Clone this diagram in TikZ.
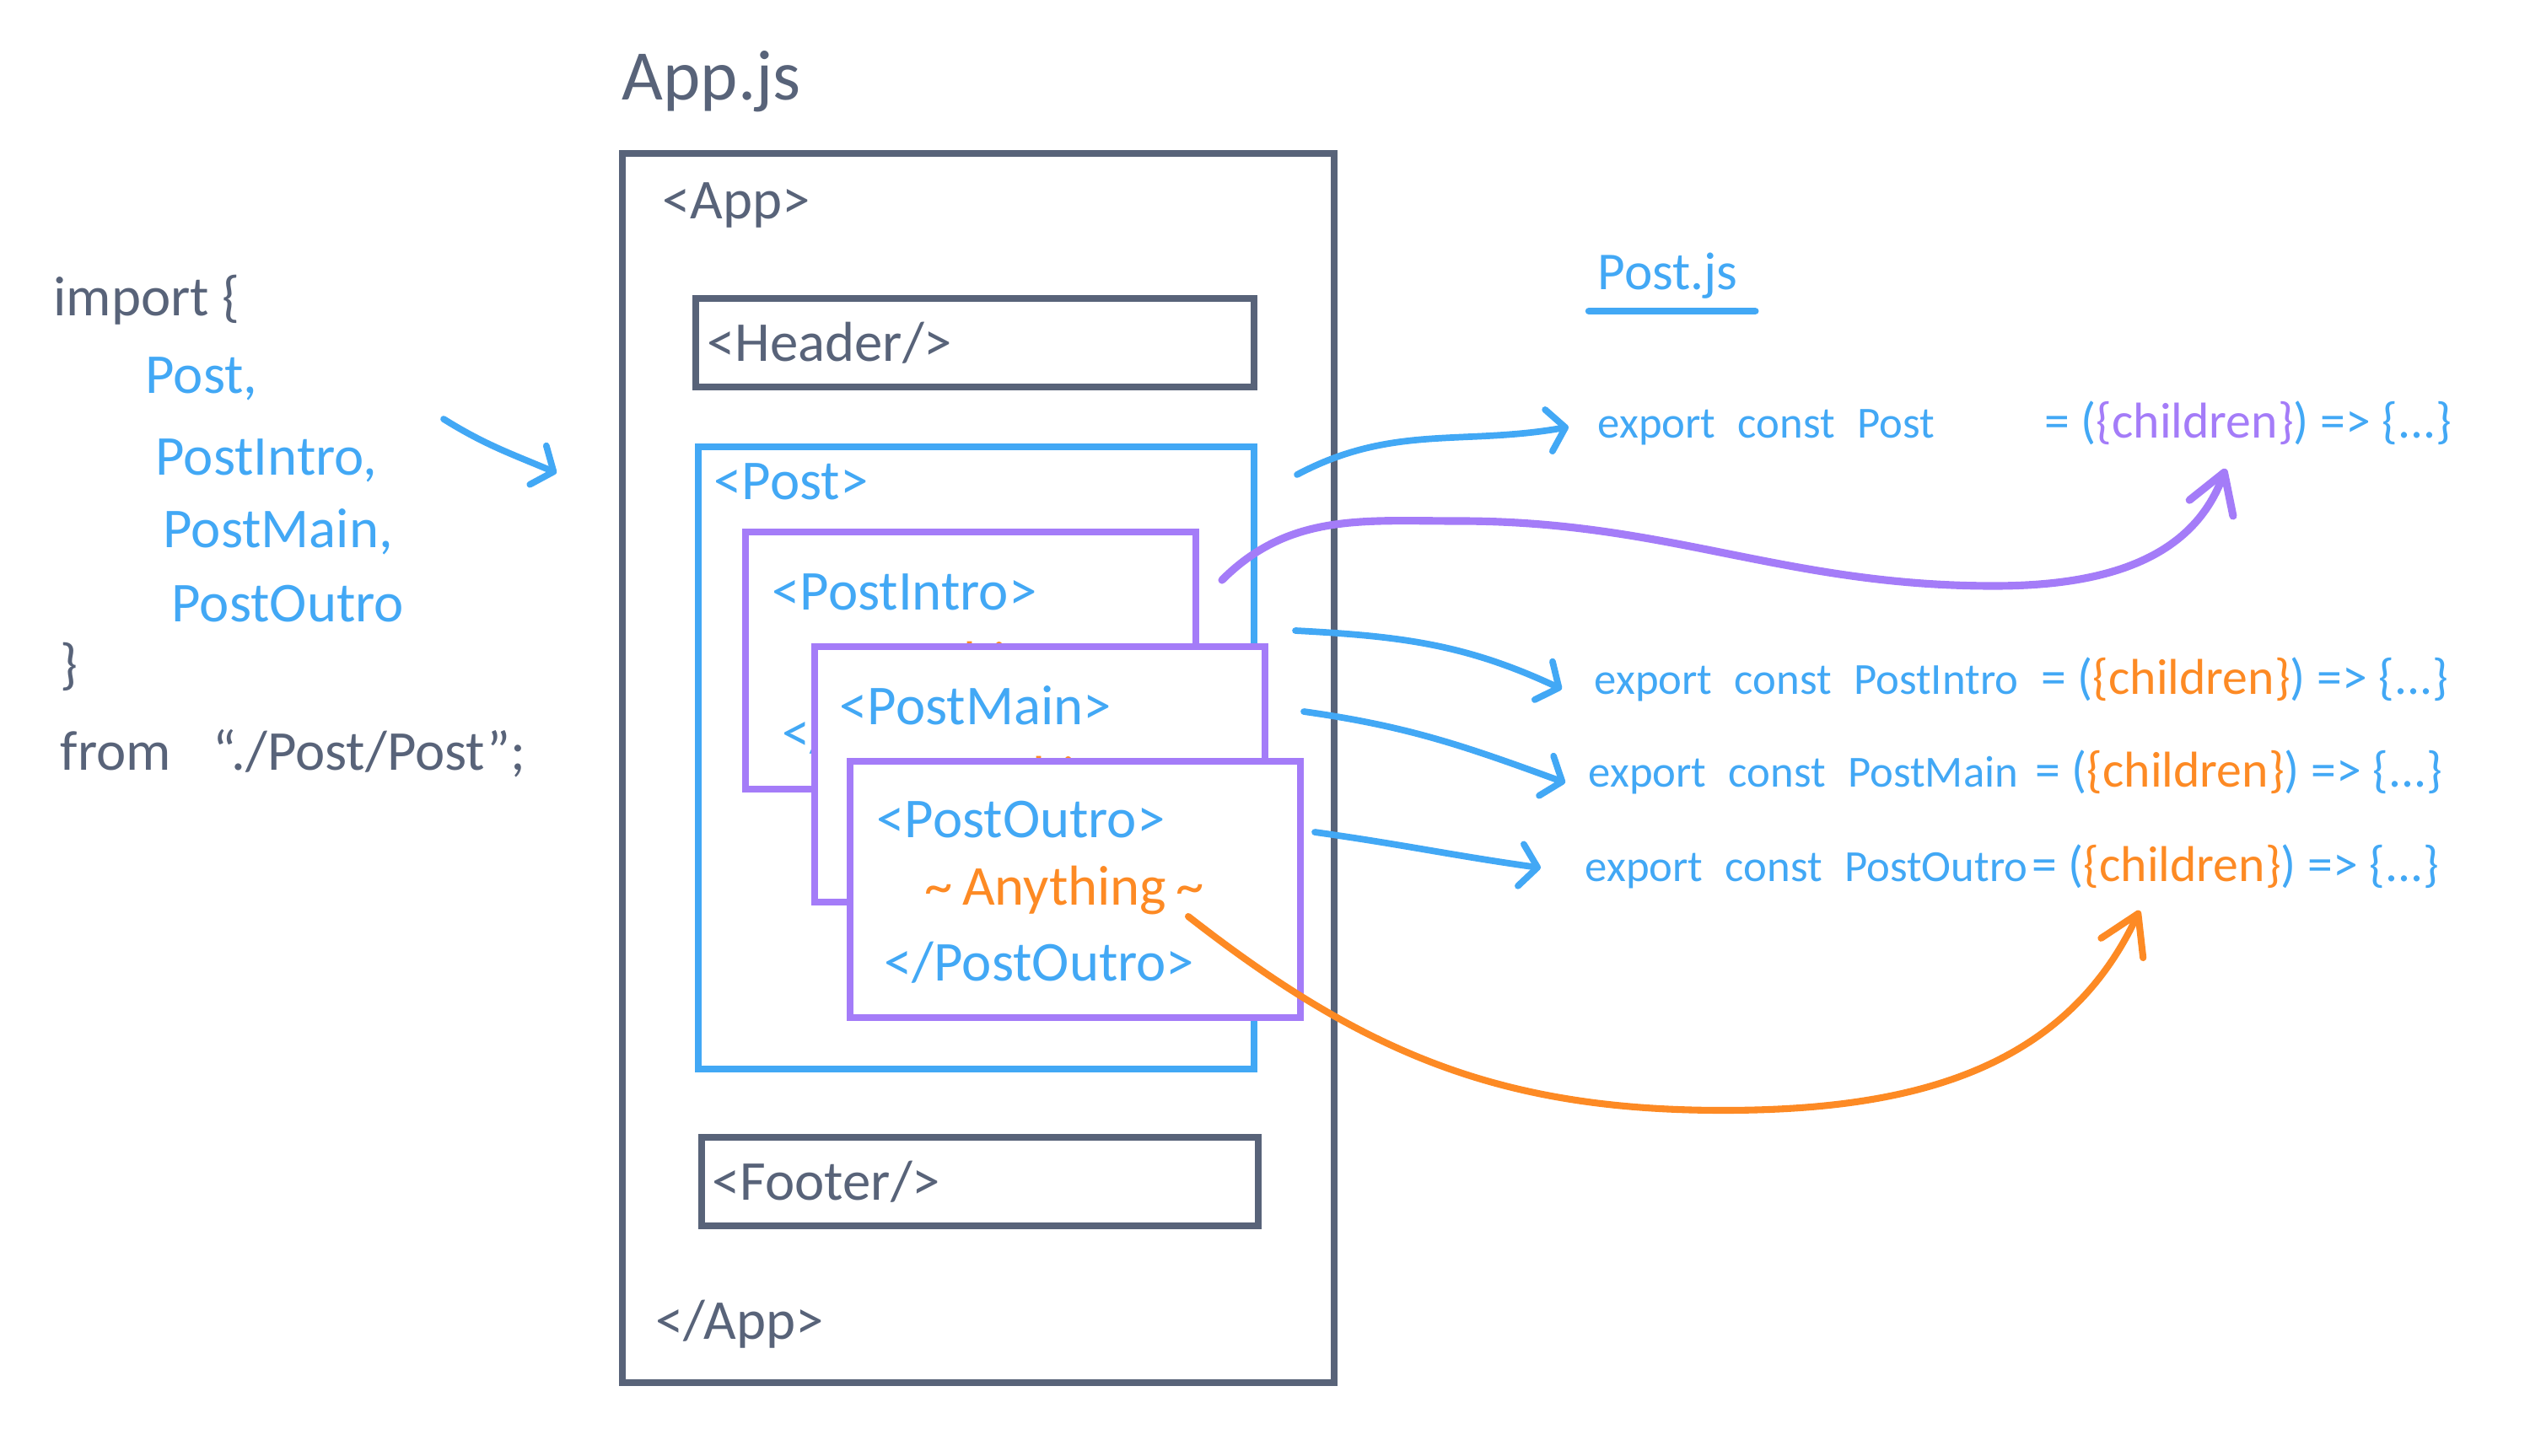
\documentclass[tikz,border=0pt]{standalone}
\usepackage{fontspec}
\setmainfont{Carlito}
\usepackage{tikz}
\usetikzlibrary{positioning, arrows.meta, calc}
\definecolor{SkGray}{RGB}{88,99,121}
\definecolor{SkBlue}{RGB}{66,168,245}
\definecolor{SkPurple}{RGB}{164,124,248}
\definecolor{SkOrange}{RGB}{253,138,36}
\newcommand{\wgap}{\hspace{0.5em}}
\newcommand{\kids}[1]{\textcolor{#1}{\{children\}}}
\newcommand{\expline}[2]{export\wgap const\wgap \makebox[2.22cm][l]{#1}%
  {\fontsize{17}{20}\selectfont= (\kids{#2}) => \{...\}}}

\begin{document}
\begin{tikzpicture}[
    box/.style={rectangle, draw=#1, line width=2.4pt, fill=white, inner sep=0pt},
    box/.default=SkGray,
    tag/.style={font=\fontsize{19}{22}\selectfont, inner sep=0pt, anchor=base west, text=#1},
    tag/.default=SkGray,
    code/.style={font=\fontsize{15}{18}\selectfont, inner sep=0pt, anchor=base west, text=SkBlue},
    link/.style={line width=2.2pt, line cap=round, draw=#1,
                 -{Straight Barb[length=2mm, width=5mm, round]}}
  ]
    \useasboundingbox (0,0) rectangle (30,-17.27);

    % App.js -- outer box
    \node[tag, font=\fontsize{24}{29}\selectfont] (appjs) at (7.37,-1.19) {App.js};
    \node[box, fill=none, minimum width=8.44cm, minimum height=14.58cm]
          (app) at (11.60,-9.11) {};
    \node[tag] (appo) at (7.85,-2.60) {<App>};

    % Header
    \node[box, minimum width=6.62cm, minimum height=1.05cm] (hdr) at (11.56,-4.065) {};
    \node[tag, right=0.17cm of hdr.west] {<Header/>};

    % Post with its three parts
    \node[box=SkBlue, minimum width=6.59cm, minimum height=7.38cm] (post) at (11.575,-8.99) {};
    \node[tag=SkBlue] (posto) at (8.46,-5.93) {<Post>};

    \node[box=SkPurple, minimum width=5.34cm, minimum height=3.05cm] (intro) at (11.51,-7.835) {};
    \node[tag=SkBlue] at (9.15,-7.23) {<PostIntro>};
    \node[tag=SkOrange] at (9.72,-8.07) {\textasciitilde\,Anything\,\textasciitilde};
    \node[tag=SkBlue] at (9.27,-8.91) {</PostIntro>};

    \node[box=SkPurple, minimum width=5.34cm, minimum height=3.03cm] (main) at (12.33,-9.185) {};
    \node[tag=SkBlue] at (9.95,-8.59) {<PostMain>};
    \node[tag=SkOrange] at (10.54,-9.43) {\textasciitilde\,Anything\,\textasciitilde};

    \node[box=SkPurple, minimum width=5.34cm, minimum height=3.04cm] (outro) at (12.75,-10.55) {};
    \node[tag=SkBlue] at (10.39,-9.93) {<PostOutro>};
    \node[tag=SkOrange] (any) at (10.96,-10.73) {\textasciitilde\,Anything\,\textasciitilde};
    \node[tag=SkBlue] at (10.48,-11.63) {</PostOutro>};

    % Footer
    \node[box, minimum width=6.60cm, minimum height=1.05cm] (ftr) at (11.62,-14.015) {};
    \node[tag, right=0.16cm of ftr.west] {<Footer/>};
    \node[tag] (appc) at (7.77,-15.88) {</App>};

    % import list
    \node[tag] (imp) at (0.63,-3.75) {import \{};
    \node[tag=SkBlue] at (1.72,-4.67) {Post,};
    \node[tag=SkBlue] at (1.84,-5.64) {PostIntro,};
    \node[tag=SkBlue] at (1.93,-6.50) {PostMain,};
    \node[tag=SkBlue] at (2.03,-7.37) {PostOutro};
    \node[tag] at (0.71,-8.10) {\}};
    \node[tag] (from) at (0.71,-9.13) {from\hspace{0.5cm}“./Post/Post”;};

    % Post.js
    \node[tag=SkBlue, font=\fontsize{18}{22}\selectfont] (pjs) at (18.94,-3.44) {Post.js};
    \draw[SkBlue, line width=2.4pt, line cap=round]
          ($(pjs.base west)+(-0.1,-0.25)$) -- ($(pjs.base east)+(0.2,-0.25)$);

    \node[code] (exp1) at (18.94,-5.20) {\expline{Post}{SkPurple}};
    \node[code] (exp2) at (18.90,-8.23) {\expline{PostIntro}{SkOrange}};
    \node[code] (exp3) at (18.83,-9.33) {\expline{PostMain}{SkOrange}};
    \node[code] (exp4) at (18.79,-10.45) {\expline{PostOutro}{SkOrange}};

    % connectors
    \coordinate (impS) at (5.26,-4.97);
    \coordinate (impE) at (6.60,-5.61);
    \draw[link=SkBlue] (impS) to[out=-32,in=157] (impE);

    \coordinate (postS) at (15.38,-5.63);
    \coordinate (introS2) at (15.36,-7.48);
    \coordinate (mainS) at (15.46,-8.44);
    \coordinate (outroS) at (15.59,-9.87);
    \draw[link=SkBlue] (postS) to[out=28,in=190] ([shift={(-0.34,-0.04)}]exp1.west);
    \draw[link=SkBlue] (introS2) to[out=-3,in=155] ([shift={(-0.38,-0.12)}]exp2.west);
    \draw[link=SkBlue] (mainS) to[out=-8,in=160] ([shift={(-0.27,-0.13)}]exp3.west);
    \draw[link=SkBlue] (outroS) to[out=-8,in=172] ([shift={(-0.52,-0.02)}]exp4.west);

    % children go back into the tags
    \coordinate (introS) at (14.49,-6.88);
    \coordinate (kidsA) at (26.39,-5.56);
    \draw[link=SkPurple, line width=2.6pt, -{Straight Barb[length=4.5mm, width=5.5mm, round]}]
          (introS) to[out=45,in=180] (17.3,-6.18) to[out=0,in=180] (23.64,-6.95)
          to[out=0,in=-110] (kidsA);

    \coordinate (anyS) at (14.09,-10.87);
    \coordinate (kidsD) at (25.37,-10.80);
    \draw[link=SkOrange, line width=2.3pt, -{Straight Barb[length=4.5mm, width=5.5mm, round]}]
          (anyS) to[out=-38,in=180] (20.43,-13.17) to[out=0,in=-115] (kidsD);
\end{tikzpicture}
\end{document}
